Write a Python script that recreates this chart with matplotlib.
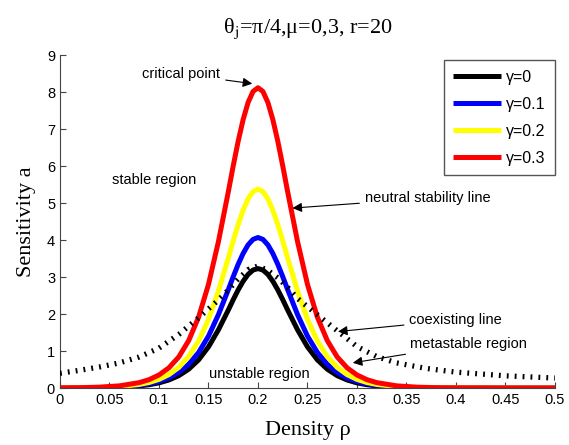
import matplotlib
matplotlib.use('Agg')
import matplotlib.pyplot as plt

plt.rcParams['font.family'] = ['Liberation Sans', 'DejaVu Sans']
plt.rcParams['mathtext.fontset'] = 'stix'

# density grid
rho = [0, 0.02, 0.04, 0.06, 0.08, 0.09, 0.10, 0.11, 0.12, 0.13, 0.14, 0.15,
       0.16, 0.17, 0.175, 0.18, 0.185, 0.19, 0.195, 0.20, 0.205, 0.21, 0.215,
       0.22, 0.225, 0.23, 0.24, 0.25, 0.26, 0.27, 0.28, 0.29, 0.30, 0.31,
       0.32, 0.34, 0.36, 0.38, 0.40, 0.45, 0.50]

# neutral stability lines for each gamma
a_g0 = [0.002, 0.004, 0.010, 0.024, 0.058, 0.090, 0.140, 0.218, 0.335, 0.510,
        0.762, 1.114, 1.573, 2.109, 2.390, 2.655, 2.888, 3.072, 3.190, 3.23,
        3.190, 3.072, 2.888, 2.655, 2.390, 2.109, 1.573, 1.114, 0.762, 0.510,
        0.335, 0.218, 0.140, 0.090, 0.058, 0.024, 0.010, 0.004, 0.002, 0.0, 0.0]
a_g1 = [0.002, 0.005, 0.012, 0.030, 0.073, 0.114, 0.177, 0.274, 0.422, 0.643,
        0.961, 1.404, 1.982, 2.658, 3.012, 3.346, 3.639, 3.871, 4.019, 4.07,
        4.019, 3.871, 3.639, 3.346, 3.012, 2.658, 1.982, 1.404, 0.961, 0.643,
        0.422, 0.274, 0.177, 0.114, 0.073, 0.030, 0.012, 0.005, 0.002, 0.0, 0.0]
a_g2 = [0.003, 0.006, 0.016, 0.039, 0.097, 0.150, 0.234, 0.363, 0.557, 0.850,
        1.270, 1.856, 2.620, 3.513, 3.981, 4.422, 4.810, 5.116, 5.313, 5.38,
        5.313, 5.116, 4.810, 4.422, 3.981, 3.513, 2.620, 1.856, 1.270, 0.850,
        0.557, 0.363, 0.234, 0.150, 0.097, 0.039, 0.016, 0.006, 0.003, 0.0, 0.0]
a_g3 = [0.004, 0.010, 0.024, 0.059, 0.146, 0.227, 0.353, 0.547, 0.841, 1.283,
        1.916, 2.801, 3.954, 5.302, 6.009, 6.675, 7.259, 7.722, 8.019, 8.12,
        8.019, 7.722, 7.259, 6.675, 6.009, 5.302, 3.954, 2.801, 1.916, 1.283,
        0.841, 0.547, 0.353, 0.227, 0.146, 0.059, 0.024, 0.010, 0.004, 0.0, 0.0]

series = [a_g0, a_g1, a_g2, a_g3]
labels = ['\u03b3=0', '\u03b3=0.1', '\u03b3=0.2', '\u03b3=0.3']
colors = ['black', '#0000ff', '#ffff00', '#ff0000']

# coexisting line
rho_c = [0, 0.02, 0.04, 0.06, 0.08, 0.10, 0.12, 0.14, 0.16, 0.17, 0.18, 0.19,
         0.20, 0.21, 0.22, 0.23, 0.24, 0.26, 0.28, 0.30, 0.32, 0.34, 0.37,
         0.40, 0.45, 0.50]
a_coex = [0.40, 0.48, 0.57, 0.68, 0.84, 1.08, 1.45, 1.90, 2.38, 2.65, 2.95,
          3.20, 3.30, 3.18, 2.98, 2.72, 2.42, 1.98, 1.55, 1.12, 0.85, 0.68,
          0.53, 0.43, 0.33, 0.27]

xticks = [0, 0.05, 0.1, 0.15, 0.2, 0.25, 0.3, 0.35, 0.4, 0.45, 0.5]
xticklabels = ['0', '0.05', '0.1', '0.15', '0.2', '0.25', '0.3', '0.35',
               '0.4', '0.45', '0.5']
yticks = list(range(10))

fig = plt.figure(figsize=(5.69, 4.45), dpi=100)
ax = fig.add_axes([0.1054, 0.128, 0.87, 0.748])

for a, lab, c in zip(series, labels, colors):
    ax.plot(rho, a, color=c, lw=3.6, label=lab, solid_capstyle='butt')

ax.plot(rho_c, a_coex, color='black', lw=3.8, dash_capstyle='butt',
        linestyle=(0, (0.35, 1.15)), zorder=5)

ax.set_xlim(0, 0.5)
ax.set_ylim(0, 9)
ax.set_xticks(xticks)
ax.set_xticklabels(xticklabels)
ax.set_yticks(yticks)
ax.tick_params(direction='in', length=4, labelsize=10.5, color='#444444')
ax.spines['top'].set_visible(False)
ax.spines['right'].set_visible(False)
for s in ['left', 'bottom']:
    ax.spines[s].set_color('#444444')

ax.set_xlabel('Density \u03c1', family='Liberation Serif', fontsize=16,
              labelpad=10)
ax.set_ylabel('Sensitivity a', family='Liberation Serif', fontsize=16,
              labelpad=8)
ax.set_title(r'θ$_{\rm j}$=π/4,μ=0,3, r=20', family='Liberation Serif',
             fontsize=16, pad=16)

leg = ax.legend(loc='upper right', bbox_to_anchor=(1.0, 0.985), fontsize=11.5,
                fancybox=False, handlelength=3.0, labelspacing=0.75,
                borderpad=0.6, handletextpad=0.3, framealpha=1,
                borderaxespad=0)
leg.get_frame().set_edgecolor('#555555')
leg.get_frame().set_linewidth(1.0)

arrow = dict(arrowstyle='-|>', color='black', lw=0.8, mutation_scale=14)
fs = 10.5
ax.annotate('critical point', xy=(0.197, 8.22), xytext=(0.083, 8.49),
            fontsize=fs, va='center', arrowprops=arrow)
ax.text(0.053, 5.62, 'stable region', fontsize=fs, va='center')
ax.annotate('neutral stability line', xy=(0.232, 4.86), xytext=(0.308, 5.13),
            fontsize=fs, va='center', arrowprops=arrow)
ax.annotate('coexisting line', xy=(0.278, 1.52), xytext=(0.353, 1.84),
            fontsize=fs, va='center', arrowprops=arrow)
ax.annotate('metastable region', xy=(0.293, 0.67), xytext=(0.3535, 1.19),
            fontsize=fs, va='center', arrowprops=arrow)
ax.text(0.201, 0.37, 'unstable region', fontsize=fs, va='center',
        ha='center')

fig.savefig('out.png', dpi=100)
